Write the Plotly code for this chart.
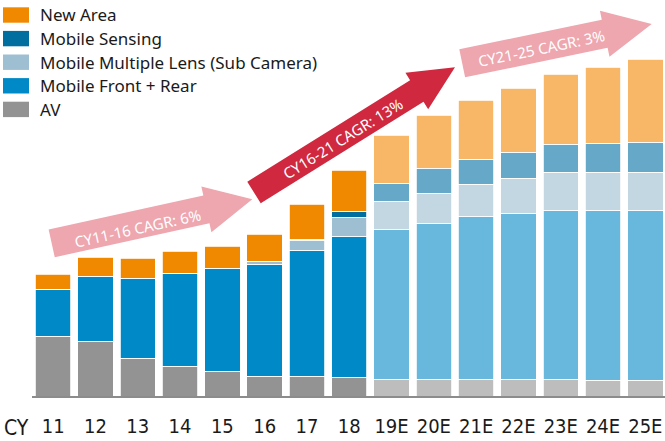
import math
import plotly.graph_objects as go

# ---------------- data ----------------
years = ["11", "12", "13", "14", "15", "16", "17", "18",
         "19E", "20E", "21E", "22E", "23E", "24E", "25E"]
av = [6.0, 5.5, 3.8, 3.0, 2.5, 2.0, 2.0, 1.9, 1.7, 1.7, 1.7, 1.7, 1.7, 1.6, 1.6]
front_rear = [4.7, 6.5, 8.0, 9.3, 10.3, 11.2, 12.6, 14.1, 15.0, 15.6, 16.3, 16.6, 16.9, 17.0, 17.0]
sub_camera = [0, 0, 0, 0, 0, 0.3, 1.0, 1.9, 2.8, 3.0, 3.2, 3.5, 3.8, 3.8, 3.8]
sensing = [0, 0, 0, 0, 0, 0, 0.1, 0.6, 1.8, 2.5, 2.5, 2.6, 2.8, 2.9, 3.0]
new_area = [1.5, 1.9, 2.0, 2.2, 2.2, 2.7, 3.5, 4.1, 4.8, 5.3, 5.9, 6.4, 7.0, 7.6, 8.3]

series_names = ["AV", "Mobile Front + Rear", "Mobile Multiple Lens (Sub Camera)",
                "Mobile Sensing", "New Area"]
series_values = [av, front_rear, sub_camera, sensing, new_area]
actual_colors = ["#939393", "#0089C7", "#9EBED2", "#006FA0", "#F08800"]
estimate_colors = ["#BDBDBD", "#68B8DE", "#C3D7E2", "#66A8C7", "#F7B767"]

cagr_labels = ["CY11-16 CAGR: 6%", "CY16-21 CAGR: 13%", "CY21-25 CAGR: 3%"]

# ---------------- layout geometry ----------------
W, H = 665, 441
ML, MR, MT, MB = 32, 0, 0, 45
PW, PH = W - ML - MR, H - MT - MB
PITCH = 42.3  # px per category
Y_PER_UNIT = 10.0  # px per data unit

NARROW = "Liberation Sans Narrow, DejaVu Sans Condensed, Noto Sans"


def px(x, y):
    return (x - ML) / PW, (H - MB - y) / PH


fig = go.Figure()
for name, vals, ca, ce in zip(series_names, series_values, actual_colors, estimate_colors):
    cols = [ce if y.endswith("E") else ca for y in years]
    fig.add_trace(go.Bar(
        x=years, y=vals, name=name,
        marker=dict(color=cols, line=dict(color="white", width=0.8)),
        showlegend=False, hoverinfo="x+y+name",
    ))

shapes = []
annotations = []

# ---------------- manual legend ----------------
legend_rows = list(zip(series_names, actual_colors))[::-1]
for i, (name, col) in enumerate(legend_rows):
    cy = 15 + i * 23.6
    x0, y0 = px(3, cy - 7.7)
    x1, y1 = px(29, cy + 7.7)
    shapes.append(dict(type="rect", xref="paper", yref="paper",
                       x0=x0, x1=x1, y0=y0, y1=y1,
                       fillcolor=col, line=dict(width=0)))
    tx, ty = px(38, cy)
    annotations.append(dict(xref="paper", yref="paper", x=tx, y=ty,
                            text=name, showarrow=False, xanchor="left", yanchor="middle",
                            font=dict(family="Noto Sans", size=17, color="#1a1a1a")))


# ---------------- CAGR arrows ----------------
def arrow_path(base, tip, shaft_w, head_w, head_len):
    bx, by = base
    tx, ty = tip
    L = math.hypot(tx - bx, ty - by)
    ux, uy = (tx - bx) / L, (ty - by) / L
    nx, ny = -uy, ux
    hx, hy = tx - ux * head_len, ty - uy * head_len
    pts = [
        (bx + nx * shaft_w / 2, by + ny * shaft_w / 2),
        (hx + nx * shaft_w / 2, hy + ny * shaft_w / 2),
        (hx + nx * head_w / 2, hy + ny * head_w / 2),
        (tx, ty),
        (hx - nx * head_w / 2, hy - ny * head_w / 2),
        (hx - nx * shaft_w / 2, hy - ny * shaft_w / 2),
        (bx - nx * shaft_w / 2, by - ny * shaft_w / 2),
    ]
    p = [px(*q) for q in pts]
    return "M " + " L ".join(f"{a:.5f},{b:.5f}" for a, b in p) + " Z"


arrows = [
    dict(base=(51.7, 243.3), tip=(252.3, 199.3), sw=28.5, hw=47, hl=47,
         color="#EEA6AF", text_at=(137.5, 227.5)),
    dict(base=(254.0, 192.5), tip=(455.0, 67.3), sw=25.4, hw=43, hl=45,
         color="#D0293F", text_at=(343.3, 138.3)),
    dict(base=(462.2, 63.3), tip=(651.7, 24.0), sw=28.6, hw=47, hl=48,
         color="#EEA6AF", text_at=(541.7, 48.3)),
]
for a, label in zip(arrows, cagr_labels):
    shapes.append(dict(type="path", xref="paper", yref="paper", layer="above",
                       path=arrow_path(a["base"], a["tip"], a["sw"], a["hw"], a["hl"]),
                       fillcolor=a["color"], line=dict(width=0)))
    ang = math.degrees(math.atan2(a["tip"][1] - a["base"][1], a["tip"][0] - a["base"][0]))
    tx, ty = px(*a["text_at"])
    annotations.append(dict(xref="paper", yref="paper", x=tx, y=ty, text=label,
                            showarrow=False, textangle=ang,
                            xanchor="center", yanchor="middle",
                            font=dict(family="Noto Sans", size=15, color="white")))

# "CY" prefix for the category axis
cx, cyy = px(16.7, 428)
annotations.append(dict(xref="paper", yref="paper", x=cx, y=cyy, text="CY",
                        showarrow=False, xanchor="center", yanchor="middle",
                        font=dict(family=NARROW, size=21, color="#1a1a1a")))

n_span = PW / PITCH
fig.update_layout(
    width=W, height=H,
    margin=dict(l=ML, r=MR, t=MT, b=MB, pad=0),
    barmode="stack", bargap=0.165,
    plot_bgcolor="white", paper_bgcolor="white",
    shapes=shapes, annotations=annotations,
    showlegend=False,
    xaxis=dict(type="category", range=[-0.5, -0.5 + n_span],
               showline=True, linecolor="#8C8C8C", linewidth=1.5,
               ticks="", showgrid=False, zeroline=False,
               ticklabelstandoff=11,
               tickfont=dict(family=NARROW, size=20, color="#1a1a1a")),
    yaxis=dict(range=[0, PH / Y_PER_UNIT], visible=False, showgrid=False, zeroline=False),
)

fig.write_html("out.html", config={"displayModeBar": False},
               post_script="document.body.style.margin='0';document.body.style.overflow='hidden';")
